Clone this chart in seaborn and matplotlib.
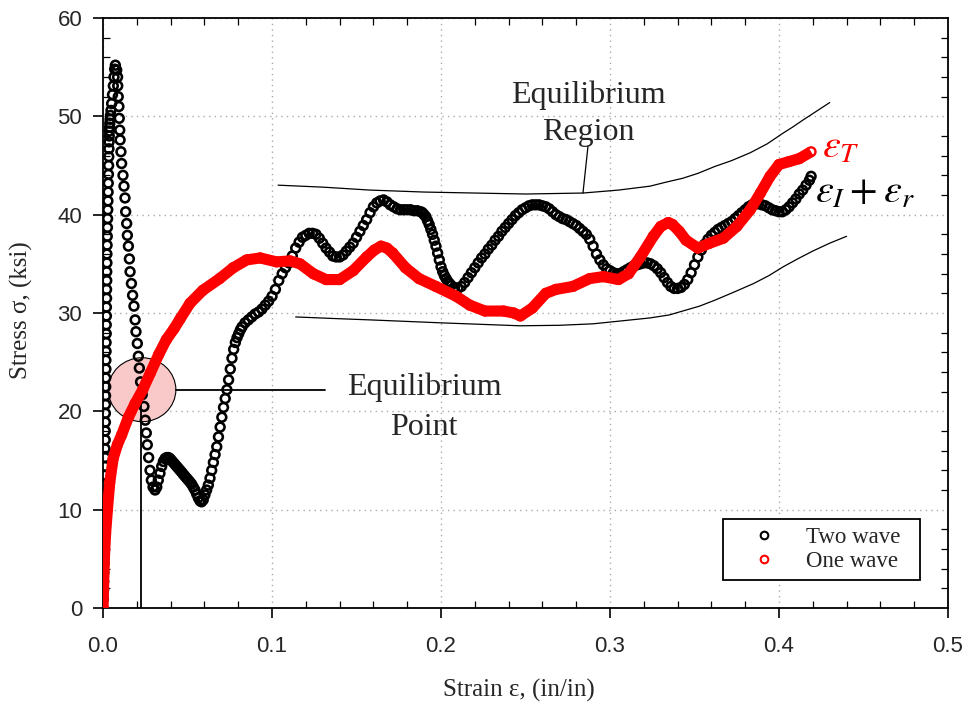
import matplotlib
matplotlib.use("Agg")
import matplotlib.pyplot as plt
import seaborn as sns
import pandas as pd
from matplotlib.patches import Ellipse
from matplotlib.lines import Line2D
from matplotlib.ticker import MultipleLocator
from matplotlib import font_manager

# ---------------- data ----------------
# Two wave (black open circles): (strain, stress) pairs, by segment
black_spike_up = [
    (0.0000, 0.0), (0.0002, 0.9), (0.0003, 1.8), (0.0004, 2.7), (0.0005, 3.6), (0.0006, 4.5),
    (0.0006, 5.4), (0.0007, 6.3), (0.0007, 7.2), (0.0008, 8.1), (0.0008, 9.0), (0.0009, 9.9),
    (0.0009, 10.8), (0.0010, 11.7), (0.0010, 12.6), (0.0011, 13.5), (0.0011, 14.4), (0.0012, 15.3),
    (0.0012, 16.2), (0.0013, 17.1), (0.0013, 18.0), (0.0014, 18.9), (0.0014, 19.8), (0.0015, 20.7),
    (0.0015, 21.6), (0.0016, 22.5), (0.0016, 23.4), (0.0017, 24.3), (0.0017, 25.2), (0.0018, 26.1),
    (0.0018, 27.0), (0.0019, 27.9), (0.0019, 28.8), (0.0020, 29.7), (0.0020, 30.6), (0.0021, 31.5),
    (0.0021, 32.4), (0.0022, 33.3), (0.0022, 34.2), (0.0023, 35.1), (0.0023, 36.0), (0.0024, 36.9),
    (0.0025, 37.8), (0.0026, 38.7), (0.0027, 39.6), (0.0028, 40.5), (0.0029, 41.4), (0.0030, 42.3),
    (0.0031, 43.2), (0.0032, 44.1), (0.0033, 45.0), (0.0034, 45.9), (0.0035, 46.7), (0.0036, 47.4),
    (0.0037, 48.0), (0.0038, 48.5), (0.0039, 48.9), (0.0040, 49.3), (0.0042, 49.7), (0.0044, 50.1),
    (0.0047, 50.6), (0.0051, 51.3), (0.0056, 52.2), (0.0061, 53.1), (0.0065, 54.0), (0.0069, 54.8),
    (0.0073, 55.2),
]
black_spike_down = [
    (0.0081, 54.7), (0.0086, 54.0), (0.0087, 53.1), (0.0090, 52.0), (0.0094, 51.0), (0.0096, 49.8),
    (0.0099, 48.6), (0.0101, 47.6), (0.0106, 46.4), (0.0110, 45.2), (0.0118, 44.0), (0.0124, 42.9),
    (0.0130, 41.7), (0.0134, 40.3), (0.0140, 39.1), (0.0144, 37.9), (0.0150, 36.8), (0.0156, 35.5),
    (0.0160, 34.2), (0.0168, 33.0), (0.0175, 31.8), (0.0183, 30.7), (0.0190, 29.3), (0.0195, 28.1),
    (0.0203, 26.9), (0.0209, 25.6), (0.0215, 24.4), (0.0222, 23.0), (0.0232, 21.7), (0.0242, 20.5),
    (0.0250, 19.1), (0.0256, 17.8), (0.0262, 16.6), (0.0270, 15.3), (0.0278, 14.0), (0.0286, 13.0),
    (0.0296, 12.3), (0.0308, 12.0),
]
black_trough = [
    (0.0318, 12.3), (0.0327, 13.0), (0.0337, 13.7), (0.0347, 14.4), (0.0357, 14.9), (0.0367, 15.2),
    (0.0377, 15.3), (0.0387, 15.3), (0.0396, 15.2), (0.0406, 15.0), (0.0416, 14.8), (0.0426, 14.6),
    (0.0436, 14.4), (0.0446, 14.2), (0.0456, 14.0), (0.0466, 13.8), (0.0475, 13.6), (0.0485, 13.4),
    (0.0495, 13.2), (0.0505, 13.0), (0.0515, 12.8), (0.0524, 12.6), (0.0534, 12.3), (0.0544, 12.0),
    (0.0554, 11.6), (0.0564, 11.2), (0.0574, 10.9), (0.0583, 10.8),
]
black_rise = [
    (0.0593, 11.0), (0.0603, 11.5), (0.0613, 12.0), (0.0623, 12.5), (0.0633, 13.2), (0.0643, 14.0),
    (0.0653, 14.8), (0.0663, 15.6), (0.0673, 16.4), (0.0683, 17.4), (0.0693, 18.4), (0.0703, 19.4),
    (0.0713, 20.4), (0.0723, 21.3), (0.0733, 22.2), (0.0743, 23.2), (0.0753, 24.3), (0.0763, 25.4),
    (0.0773, 26.3), (0.0783, 27.0), (0.0793, 27.5), (0.0803, 27.9), (0.0813, 28.3), (0.0823, 28.6),
]
black_plateau = [
    (0.084, 29.0), (0.086, 29.3), (0.088, 29.6), (0.090, 29.9), (0.092, 30.1), (0.094, 30.4),
    (0.096, 30.8), (0.098, 31.2), (0.100, 31.7), (0.102, 32.4), (0.104, 33.3), (0.106, 34.0),
    (0.108, 34.6), (0.110, 35.1), (0.112, 35.8), (0.114, 36.6), (0.116, 37.2), (0.118, 37.7),
    (0.120, 37.9), (0.122, 38.1), (0.124, 38.1), (0.126, 38.0), (0.128, 37.6), (0.130, 37.1),
    (0.132, 36.6), (0.134, 36.2), (0.136, 35.8), (0.138, 35.7), (0.140, 35.7), (0.142, 35.9),
    (0.144, 36.3), (0.146, 36.7), (0.148, 37.1), (0.150, 37.7), (0.152, 38.3), (0.154, 38.9),
    (0.156, 39.5), (0.158, 40.2), (0.160, 40.8), (0.162, 41.2), (0.164, 41.4), (0.166, 41.5),
    (0.168, 41.3), (0.170, 41.0), (0.172, 40.8), (0.174, 40.6), (0.176, 40.5), (0.178, 40.5),
    (0.180, 40.5), (0.182, 40.5), (0.184, 40.4), (0.186, 40.4), (0.188, 40.3), (0.189, 40.2),
    (0.190, 40.0), (0.191, 39.8), (0.192, 39.4), (0.193, 39.0), (0.194, 38.5), (0.195, 38.0),
    (0.196, 37.4), (0.197, 36.8), (0.198, 36.1), (0.199, 35.4), (0.200, 34.7), (0.201, 34.2),
    (0.202, 33.8), (0.203, 33.5), (0.204, 33.2), (0.205, 33.0), (0.206, 32.8), (0.208, 32.6),
    (0.210, 32.5), (0.212, 32.7), (0.214, 33.1), (0.216, 33.6), (0.218, 34.1), (0.220, 34.6),
    (0.222, 35.1), (0.224, 35.6), (0.226, 36.0), (0.228, 36.5), (0.230, 36.9), (0.232, 37.4),
    (0.234, 37.8), (0.236, 38.3), (0.238, 38.7), (0.240, 39.1), (0.242, 39.5), (0.244, 39.9),
    (0.246, 40.2), (0.248, 40.5), (0.250, 40.7), (0.252, 40.9), (0.254, 41.0), (0.256, 41.0),
    (0.258, 41.0), (0.260, 40.9), (0.262, 40.8), (0.264, 40.6), (0.266, 40.3), (0.268, 40.0),
    (0.270, 39.8), (0.272, 39.6), (0.274, 39.5), (0.276, 39.3), (0.278, 39.1), (0.280, 38.9),
    (0.282, 38.6), (0.284, 38.3), (0.286, 38.0), (0.288, 37.5), (0.290, 36.8), (0.292, 36.0),
    (0.294, 35.4), (0.296, 34.9), (0.298, 34.5), (0.300, 34.3), (0.302, 34.1), (0.304, 34.0),
    (0.306, 34.0), (0.308, 34.2), (0.310, 34.4), (0.312, 34.6), (0.314, 34.8), (0.316, 34.9),
    (0.318, 35.0), (0.320, 35.1), (0.322, 35.1), (0.324, 35.0), (0.326, 34.8), (0.328, 34.5),
    (0.330, 34.1), (0.332, 33.6), (0.334, 33.1), (0.336, 32.7), (0.338, 32.5), (0.340, 32.5),
    (0.342, 32.6), (0.344, 32.9), (0.346, 33.4), (0.348, 34.1), (0.350, 34.9), (0.352, 35.7),
    (0.354, 36.4), (0.356, 37.0), (0.358, 37.5), (0.360, 37.9), (0.362, 38.2), (0.364, 38.5),
    (0.366, 38.7), (0.368, 38.9), (0.370, 39.1), (0.372, 39.3), (0.374, 39.6), (0.376, 39.9),
    (0.378, 40.2), (0.380, 40.5), (0.382, 40.8), (0.384, 41.0), (0.386, 41.1), (0.388, 41.1),
    (0.390, 41.0), (0.392, 40.9), (0.394, 40.7), (0.396, 40.5), (0.398, 40.4), (0.400, 40.3),
    (0.402, 40.3), (0.404, 40.5), (0.406, 40.8), (0.408, 41.2), (0.410, 41.6), (0.412, 42.1),
    (0.414, 42.5), (0.416, 43.0), (0.418, 43.5), (0.419, 43.9),
]

# One wave (red): (strain, stress)
red_curve = [
    (0.0000, 0.0), (0.0003, 2.0), (0.0008, 5.0), (0.0015, 7.5), (0.0026, 10.0), (0.0040, 12.8),
    (0.0060, 15.2), (0.0085, 16.6), (0.0110, 17.6), (0.0150, 19.4), (0.0190, 20.8), (0.0235, 22.2),
    (0.0280, 23.9), (0.0330, 25.8), (0.0375, 27.3), (0.0420, 28.4), (0.0456, 29.4), (0.0515, 31.0),
    (0.0590, 32.3), (0.0690, 33.5), (0.0770, 34.6), (0.0850, 35.4), (0.0930, 35.6), (0.1027, 35.2),
    (0.1107, 35.3), (0.1166, 35.0), (0.1244, 34.0), (0.1320, 33.4), (0.1400, 33.4), (0.1480, 34.3),
    (0.1560, 35.7), (0.1605, 36.4), (0.1645, 36.8), (0.1680, 36.6), (0.1714, 36.1), (0.1790, 34.6),
    (0.1870, 33.5), (0.1970, 32.7), (0.2090, 31.7), (0.2170, 30.8), (0.2260, 30.2), (0.2370, 30.2),
    (0.2430, 30.0), (0.2470, 29.7), (0.2540, 30.5), (0.2620, 32.0), (0.2680, 32.4), (0.2780, 32.7),
    (0.2880, 33.5), (0.2960, 33.7), (0.3050, 33.4), (0.3110, 34.0), (0.3180, 35.7), (0.3256, 37.8),
    (0.3300, 38.8), (0.3345, 39.2), (0.3370, 39.0), (0.3410, 38.3), (0.3450, 37.4), (0.3520, 36.6),
    (0.3590, 37.1), (0.3670, 37.6), (0.3750, 38.8), (0.3830, 40.5), (0.3890, 42.2), (0.3947, 43.9),
    (0.4000, 45.1), (0.4060, 45.4), (0.4120, 45.7), (0.4190, 46.4),
]

# Equilibrium-region envelope curves (annotation)
region_upper = [
    (0.1036, 43.0), (0.130, 42.8), (0.158, 42.5), (0.190, 42.3), (0.220, 42.2), (0.250, 42.1),
    (0.284, 42.2), (0.305, 42.5), (0.3237, 42.9), (0.333, 43.3), (0.343, 43.7), (0.352, 44.2),
    (0.362, 44.9), (0.372, 45.5), (0.383, 46.3), (0.393, 47.2), (0.4025, 48.3), (0.408, 48.9),
    (0.414, 49.6), (0.422, 50.5), (0.430, 51.4),
]
region_lower = [
    (0.114, 29.6), (0.135, 29.45), (0.158, 29.3), (0.200, 29.0), (0.2467, 28.7), (0.270, 28.75),
    (0.290, 28.9), (0.3237, 29.5), (0.335, 29.8), (0.345, 30.3), (0.353, 30.7), (0.362, 31.3),
    (0.373, 32.1), (0.385, 33.0), (0.394, 33.8), (0.4025, 34.7), (0.411, 35.5), (0.420, 36.3),
    (0.430, 37.1), (0.440, 37.8),
]
region_leader = [(0.2840, 42.2), (0.2870, 47.0)]
point_vertical = [(0.0223, 0.0), (0.0223, 21.0)]
point_horizontal = [(0.0432, 22.2), (0.1314, 22.2)]
point_center = (0.0231, 22.2)

series_names = ["Two wave", "One wave"]
series_colors = ["black", "red"]
x_ticks = [0.0, 0.1, 0.2, 0.3, 0.4, 0.5]
x_tick_labels = ["0.0", "0.1", "0.2", "0.3", "0.4", "0.5"]
y_ticks = [0, 10, 20, 30, 40, 50, 60]
y_tick_labels = ["0", "10", "20", "30", "40", "50", "60"]

# ---------------- style ----------------
sns.set_style("white")
plt.rcParams["font.family"] = ["Liberation Serif", "DejaVu Serif"]
plt.rcParams["mathtext.fontset"] = "stix"


def has_font(name):
    try:
        font_manager.findfont(font_manager.FontProperties(family=name), fallback_to_default=False)
        return True
    except Exception:
        return False


sans = "Liberation Sans" if has_font("Liberation Sans") else "DejaVu Sans"
xsans = "Liberation Sans Narrow" if has_font("Liberation Sans Narrow") else sans

fig = plt.figure(figsize=(9.71, 7.17), dpi=100)
ax = fig.add_axes([0.1061, 0.1520, 0.8702, 0.8229])

two_df = pd.DataFrame(black_spike_up + black_spike_down + black_trough + black_rise + black_plateau,
                      columns=["strain", "stress"])
one_df = pd.DataFrame(red_curve, columns=["strain", "stress"])

# Equilibrium point ellipse (behind data)
ell = Ellipse(point_center, width=0.040, height=6.5, facecolor="#f9c8c8",
              edgecolor="black", linewidth=0.8, zorder=1)
ax.add_patch(ell)

# annotation lines
for pts, lw in [(region_upper, 0.9), (region_lower, 0.9), (region_leader, 0.9),
                (point_vertical, 1.3), (point_horizontal, 1.3)]:
    d = pd.DataFrame(pts, columns=["x", "y"])
    sns.lineplot(data=d, x="x", y="y", sort=False, estimator=None, color="black",
                 linewidth=lw, ax=ax, zorder=2)

# Two wave: open black circles
sns.scatterplot(data=two_df, x="strain", y="stress", ax=ax, s=40, marker="o",
                legend=False, zorder=3)
coll = ax.collections[-1]
coll.set_facecolor("none")
coll.set_edgecolor(series_colors[0])
coll.set_linewidth(1.85)

# One wave: dense red circles -> thick red band
sns.lineplot(data=one_df, x="strain", y="stress", sort=False, estimator=None,
             color=series_colors[1], linewidth=8, ax=ax, zorder=4,
             solid_capstyle="butt", solid_joinstyle="round")
sns.scatterplot(data=one_df, x="strain", y="stress", ax=ax, s=40, marker="o",
                legend=False, zorder=5)
coll = ax.collections[-1]
coll.set_facecolor("none")
coll.set_edgecolor(series_colors[1])
coll.set_linewidth(1.7)

# axes setup
ax.set_xlim(0, 0.5)
ax.set_ylim(0, 60)
ax.set_xticks(x_ticks, labels=x_tick_labels, fontsize=16, fontfamily=xsans)
ax.set_yticks(y_ticks, labels=y_tick_labels, fontsize=16, fontfamily=sans)
ax.xaxis.set_minor_locator(MultipleLocator(0.02))
ax.yaxis.set_minor_locator(MultipleLocator(2))
ax.tick_params(which="major", direction="out", length=7, width=1.2, color="black",
               bottom=True, left=True, top=False, right=False)
ax.tick_params(axis="x", which="major", pad=13)
ax.tick_params(axis="y", which="major", pad=8)
ax.tick_params(which="minor", direction="in", length=5, width=0.9, color="black",
               bottom=True, left=True, top=True, right=True)
for sp in ax.spines.values():
    sp.set_visible(True)
    sp.set_color("black")
    sp.set_linewidth(1.3)
ax.grid(True, which="major", color="#aaaaaa", linestyle=(0, (1, 3)), linewidth=1.0)
ax.set_axisbelow(True)

ax.set_xlabel("Strain ε, (in/in)", fontsize=18)
ax.set_ylabel("Stress σ, (ksi)", fontsize=18)
ax.xaxis.label.set_va("center")
ax.yaxis.label.set_va("center")
ax.xaxis.set_label_coords(0.492, -0.139)
ax.yaxis.set_label_coords(-0.096, 0.505)

# annotation texts
ax.text(0.287, 52.1, "Equilibrium", ha="center", va="center", fontsize=23, zorder=6)
ax.text(0.287, 48.4, "Region", ha="center", va="center", fontsize=23, zorder=6)
ax.text(0.190, 22.4, "Equilibrium", ha="center", va="center", fontsize=23, zorder=6)
ax.text(0.190, 18.4, "Point", ha="center", va="center", fontsize=23, zorder=6)
ax.text(0.4254, 46.8, r"$\varepsilon_T$", color="red", ha="left", va="center", fontsize=29, zorder=6)
ax.text(0.4213, 42.2, r"$\varepsilon_I+\varepsilon_r$", color="black", ha="left", va="center",
        fontsize=29, zorder=6)

# legend
handles = [Line2D([], [], marker="o", linestyle="none", markerfacecolor="none",
                  markeredgecolor=c, markersize=5.5, markeredgewidth=1.5)
           for c in series_colors]
leg = ax.legend(handles, series_names, loc="lower left",
                bbox_to_anchor=(0.734, 0.047, 0.233, 0.107), mode="expand",
                fontsize=16.5, frameon=True, fancybox=False, framealpha=1, edgecolor="black",
                handlelength=2.9, handletextpad=0.35, borderpad=0.35, labelspacing=0.15,
                borderaxespad=0)
leg.get_frame().set_linewidth(1.3)
leg.set_zorder(7)

fig.savefig("out.png", dpi=100)
